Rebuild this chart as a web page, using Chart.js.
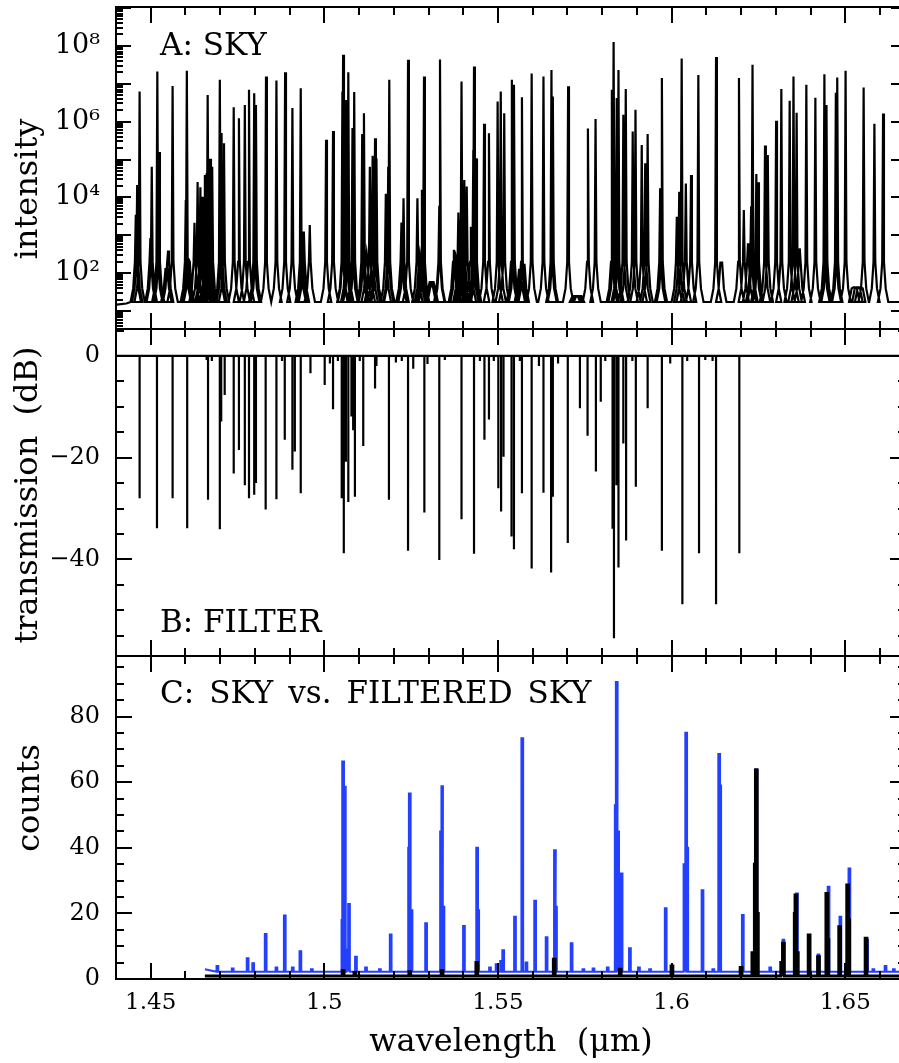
<!DOCTYPE html>
<html><head><meta charset="utf-8">
<script src="https://cdn.jsdelivr.net/npm/chart.js@4.4.1/dist/chart.umd.min.js"></script>
<style>
html,body{margin:0;padding:0;background:#fff;overflow:hidden;}
#wrap{position:relative;width:899px;height:1063px;overflow:hidden;background:#fff;}
canvas{position:absolute;left:0;}
</style></head><body>
<div id="wrap">
<canvas id="cA" width="908" height="330" style="top:0px"></canvas>
<canvas id="cB" width="908" height="329" style="top:328px"></canvas>
<canvas id="cC" width="908" height="408" style="top:655px"></canvas>
</div>
<script>
// ---------------- data ----------------
const xMin = 1.44, xMax = 1.6675;            // wavelength range (µm)
const xMajorTicks = [1.45, 1.5, 1.55, 1.6, 1.65];
const xTickLabels = ['1.45', '1.5', '1.55', '1.6', '1.65'];
const xMinorTicks = [1.44,1.46,1.47,1.48,1.49,1.51,1.52,1.53,1.54,1.56,1.57,1.58,1.59,1.61,1.62,1.63,1.64,1.66];

// Panel A: sky OH emission lines (wavelength, log10 peak intensity)
const skyWl = [1.4457,1.4461,1.4468,1.4499,1.4503,1.4519,1.4524,1.4545,1.4550,1.4563,
1.4601,1.4604,1.4610,1.4626,1.4635,1.4643,1.4648,1.4656,1.4661,1.4664,
1.4667,1.4671,1.4677,1.4699,1.4704,1.4711,1.4739,1.4754,1.4771,1.4783,
1.4798,1.4803,1.4832,1.4862,1.4887,1.4908,1.4932,1.4936,1.4941,1.4958,
1.5005,1.5025,1.5052,1.5054,1.5063,1.5069,1.5081,1.5086,1.5109,1.5114,
1.5122,1.5131,1.5139,1.5146,1.5150,1.5177,1.5184,1.5187,1.5222,1.5228,
1.5241,1.5268,1.5275,1.5281,1.5287,1.5306,1.5312,1.5331,1.5333,1.5373,
1.5378,1.5386,1.5391,1.5395,1.5398,1.5403,1.5410,1.5422,1.5429,1.5431,
1.5437,1.5460,1.5474,1.5499,1.5508,1.5518,1.5540,1.5546,1.5563,1.5569,
1.5574,1.5597,1.5631,1.5654,1.5658,1.5702,1.5722,1.5728,1.5733,1.5759,
1.5781,1.5828,1.5833,1.5842,1.5847,1.5861,1.5868,1.5888,1.5896,1.5914,
1.5924,1.5931,1.5967,1.5972,1.6015,1.6022,1.6029,1.6041,1.6056,1.6077,
1.6128,1.6143,1.6194,1.6208,1.6220,1.6229,1.6233,1.6244,1.6249,1.6269,
1.6277,1.6301,1.6316,1.6340,1.6351,1.6360,1.6369,1.6388,1.6414,1.6440,
1.6446,1.6473,1.6477,1.6501,1.6526,1.6535,1.6543,1.6553,1.6584,1.6609];
const skyPeakExp = [3.54,4.33,6.79,2.93,4.81,7.32,5.20,2.11,2.60,6.94,
3.93,7.34,2.35,3.33,4.41,4.27,4.02,4.59,4.64,6.70,
4.99,5.02,4.81,7.10,5.70,5.43,6.38,6.09,6.44,6.84,
6.75,6.44,7.19,7.08,7.30,6.36,6.88,3.10,3.10,3.27,
5.52,5.75,6.79,7.76,6.57,7.30,5.83,6.78,5.67,6.22,
2.52,4.81,5.10,5.56,5.03,4.10,4.81,7.10,3.34,3.98,
7.63,3.98,2.50,4.20,7.19,1.77,1.77,3.78,7.64,2.62,
2.44,3.60,3.41,7.06,3.85,4.46,4.29,3.23,5.25,7.45,
5.03,5.94,5.69,6.53,6.79,6.22,7.10,6.97,2.09,6.64,
2.22,7.27,7.19,7.36,6.66,6.93,1.40,1.40,1.40,5.82,
6.07,6.84,8.10,6.62,7.36,6.18,6.86,5.74,6.31,5.38,
4.90,5.67,4.24,7.15,3.49,4.15,7.66,4.37,4.59,7.23,
7.70,2.28,7.15,3.67,2.79,3.76,7.50,4.62,4.40,5.37,
5.12,6.02,6.86,6.55,7.19,6.23,2.66,6.97,6.63,7.25,
6.44,6.76,7.16,7.34,1.63,1.63,1.63,6.90,5.94,6.21];
const skyBase = 17.5;                                  // continuum level
const skyContWl  = [1.4402,1.4430,1.6675];
const skyContVal = [15,16,17.5];
const yTicksA = [1e2, 1e4, 1e6, 1e8];
const yTickLabelsA = ['10²', '10⁴', '10⁶', '10⁸'];

// Panel B: filter notches (wavelength, transmission dB)
const filtWl = [1.4468,1.4518,1.4563,1.4605,1.4661,1.4665,1.4676,1.4699,1.4703,1.4713,
1.4739,1.4754,1.4771,1.4783,1.4798,1.4803,1.4831,1.4862,1.4878,1.4886,
1.4908,1.4915,1.4932,1.4960,1.5001,1.5016,1.5025,1.5039,1.5050,1.5056,
1.5062,1.5069,1.5078,1.5083,1.5088,1.5102,1.5112,1.5146,1.5150,1.5186,
1.5206,1.5223,1.5241,1.5256,1.5288,1.5297,1.5331,1.5347,1.5395,1.5431,
1.5448,1.5461,1.5474,1.5488,1.5501,1.5509,1.5516,1.5539,1.5546,1.5563,
1.5569,1.5597,1.5618,1.5631,1.5653,1.5658,1.5673,1.5701,1.5736,1.5758,
1.5782,1.5796,1.5809,1.5830,1.5834,1.5841,1.5847,1.5861,1.5869,1.5887,
1.5897,1.5931,1.5972,1.5996,1.6031,1.6045,1.6079,1.6097,1.6118,1.6128,1.6195];
const filtDb = [-28.0,-33.9,-28.0,-33.9,-0.8,-28.3,-1.0,-34.1,-12.9,-7.7,
-23.1,-18.5,-25.4,-28.0,-27.3,-25.0,-30.2,-28.2,-1.0,-16.5,
-22.4,-18.8,-27.0,-3.4,-5.7,-1.5,-10.5,-1.0,-28.0,-38.8,
-20.8,-28.7,-11.9,-14.6,-27.7,-1.0,-17.7,-6.4,-2.0,-28.3,
-1.3,-1.0,-38.3,-2.5,-30.8,-1.6,-40.1,-0.8,-32.1,-38.9,
-1.0,-16.5,-12.5,-1.0,-26.0,-30.6,-19.8,-35.5,-38.0,-1.0,
-27.0,-41.8,-2.0,-26.9,-42.6,-27.7,-1.5,-36.8,-10.3,-15.7,
-22.7,-9.0,-1.0,-34.0,-55.5,-25.4,-41.6,-17.2,-36.3,-1.0,
-25.7,-10.3,-38.3,-1.5,-48.8,-1.0,-38.8,-0.8,-1.0,-48.8,-38.8];
const yTicksB = [-40, -20, 0];
const yTickLabelsB = ['−40', '−20', '0'];

// Panel C: observed counts, unfiltered sky (blue) and filtered sky (black)
const countsStartWl = 1.4656;
const skyCountsWl = [1.4692,1.4736,1.4779,1.4795,1.4831,1.4862,1.4886,1.4909,1.4931,1.4964,
1.5052,1.5054,1.5059,1.5066,1.5071,1.5091,1.5120,1.5160,1.5191,1.5244,
1.5246,1.5251,1.5293,1.5336,1.5339,1.5343,1.5402,1.5440,1.5443,1.5477,
1.5496,1.5509,1.5515,1.5549,1.5570,1.5582,1.5607,1.5640,1.5664,1.5667,
1.5712,1.5746,1.5775,1.5816,1.5839,1.5842,1.5846,1.5856,1.5880,1.5906,
1.5938,1.5983,1.6037,1.6042,1.6045,1.6089,1.6120,1.6137,1.6140,1.6205,
1.6244,1.6284,1.6322,1.6361,1.6396,1.6423,1.6452,1.6486,1.6512,1.6563,
1.6581,1.6616,1.6640];
const skyCounts = [4.0,3.2,6.3,4.8,13.7,3.5,19.4,3.5,8.5,3.0,
18,66.3,58.6,9,22.9,6.8,3.5,3.0,13.6,40,
56.6,21,17.0,45,58.8,22,16.2,40.0,21,3.5,
4.5,5.5,8.8,19.0,73.4,5,23.9,12.7,39.3,22,
10.9,3.0,3.2,3.5,53,90.6,45,32.2,9.4,3.5,
3.0,21.6,35,75.1,40,27.1,3.0,68.6,59,19.5,
64,3.5,12,26.1,13.4,7.5,28.1,19.0,33.7,11.9,
3.0,4,3.0];
const skyCountsBase = 2.2, skyCountsStart = 3.0;
const filtCountsWl = [1.5054,1.5088,1.5246,1.5339,1.5439,1.5662,1.5852,1.6001,1.6200,1.6234,
1.6241,1.6244,1.6247,1.6317,1.6322,1.6356,1.6358,1.6362,1.6396,1.6423,
1.6447,1.6450,1.6484,1.6507,1.6510,1.6560];
const filtCounts = [2.5,2.0,2.2,2.5,5,6,3,4,3.5,8,
35,63.7,20,5,10.9,20,25.6,8,13.4,6.8,
26.1,12,15.9,28.7,18,12.4];
const filtCountsBase = 0.9;
const yTicksC = [0, 20, 40, 60, 80];
const yTickLabelsC = ['0', '20', '40', '60', '80'];

// ---------------- line glyph styles (not data) ----------------
// emission line drawn as a narrow spike on a small "wing" (half-widths in µm, wing levels)
const wingHalf = [0.00150, 0.00075, 0.00025];
const wingLevel = [null, 40, 200];
const binHalf = 0.00025;   // half bin width for the counts histogram bars

// ---------------- build line points from the arrays ----------------
function groupsToPts(groups) {
  groups.sort((a, b) => a.key - b.key);
  const pts = [];
  groups.forEach(g => g.pts.forEach(p => pts.push(p)));
  return pts;
}
function skyLinePts() {
  const groups = [];
  skyContWl.forEach((w, i) => groups.push({key: w, pts: [{x: w, y: skyContVal[i]}]}));
  skyWl.forEach((w, i) => {
    const pk = Math.pow(10, skyPeakExp[i]);
    const lv = wingLevel.map(l => l === null ? skyBase : Math.min(l, pk));
    groups.push({key: w, pts: [
      {x: w - wingHalf[0], y: lv[0]}, {x: w - wingHalf[1], y: lv[1]}, {x: w - wingHalf[2], y: lv[2]},
      {x: w, y: pk},
      {x: w + wingHalf[2], y: lv[2]}, {x: w + wingHalf[1], y: lv[1]}, {x: w + wingHalf[0], y: lv[0]}]});
  });
  return groupsToPts(groups);
}
function spikePts(wl, vals, base, startWl, startVal, endWl) {
  const groups = [{key: startWl, pts: [{x: startWl, y: startVal}]}, {key: endWl, pts: [{x: endWl, y: base}]}];
  wl.forEach((w, i) => groups.push({key: w, pts: [{x: w, y: base}, {x: w, y: vals[i]}, {x: w, y: base}]}));
  return groupsToPts(groups);
}
function binPts(wl, vals, base, startWl, startVal, endWl) {
  const groups = [{key: startWl, pts: [{x: startWl, y: startVal}]}, {key: endWl, pts: [{x: endWl, y: base}]}];
  wl.forEach((w, i) => groups.push({key: w, pts: [
    {x: w - binHalf, y: base}, {x: w - binHalf, y: vals[i]}, {x: w + binHalf, y: vals[i]}, {x: w + binHalf, y: base}]}));
  return groupsToPts(groups);
}
const skyPts   = skyLinePts();
const filtPts  = spikePts(filtWl, filtDb, 0, xMin, 0, xMax);
const bluePts  = binPts(skyCountsWl, skyCounts, skyCountsBase, countsStartWl, skyCountsStart, xMax);
const blackPts = binPts(filtCountsWl, filtCounts, filtCountsBase, countsStartWl, filtCountsBase, xMax);

// ---------------- chart setup ----------------
const FONT = '"DejaVu Serif", "Liberation Serif", serif';
Chart.defaults.font.family = FONT;
Chart.defaults.color = '#000';

const minorA = [], majorA = [];
for (let d = 0; d <= 9; d++) {
  if (d >= 1) majorA.push(Math.pow(10, d));
  for (let m = 2; m <= 9; m++) { const v = m * Math.pow(10, d); if (v > 3.4 && v < 1.05e9) minorA.push(v); }
}
const minorB = [-55,-50,-45,-35,-30,-25,-15,-10,-5,5];
const minorC = [5,10,15,25,30,35,45,50,55,65,70,75,85,90,95];

function decor(o) {
  return {
    id: 'decor',
    afterDraw(chart) {
      const ctx = chart.ctx, a = chart.chartArea, xs = chart.scales.x, ys = chart.scales.y;
      ctx.save();
      ctx.strokeStyle = '#000'; ctx.lineWidth = 2;
      ctx.beginPath();
      const seg = (x1, y1, x2, y2) => { ctx.moveTo(x1, y1); ctx.lineTo(x2, y2); };
      const xt = (vals, len) => vals.forEach(v => { const p = Math.round(xs.getPixelForValue(v)); seg(p, a.top, p, a.top + len); seg(p, a.bottom, p, a.bottom - len); });
      const yt = (vals, len) => vals.forEach(v => { const p = Math.round(ys.getPixelForValue(v)); seg(a.left, p, a.left + len, p); seg(a.right, p, a.right - len, p); });
      xt(xMajorTicks, 16); xt(xMinorTicks, 8);
      yt(o.yMajor, o.majorLen); yt(o.yMinor, o.minorLen);
      ctx.stroke();
      ctx.strokeRect(a.left, a.top, a.right - a.left, a.bottom - a.top);
      ctx.fillStyle = '#000';
      ctx.font = '31px ' + FONT; ctx.textAlign = 'left'; ctx.textBaseline = 'alphabetic';
      ctx.fillText(o.label, o.labelX, o.labelY);
      if (o.xTitle) { ctx.textAlign = 'center'; ctx.font = '32px ' + FONT; ctx.fillText(o.xTitle, o.xTitleX, o.xTitleY); }
      ctx.font = '32px ' + FONT; ctx.textAlign = 'center';
      ctx.translate(o.titleX, o.titleY); ctx.rotate(-Math.PI / 2);
      ctx.fillText(o.title, 0, 0);
      ctx.restore();
    }
  };
}

function xScale(show) {
  return {
    type: 'linear', min: xMin, max: xMax, display: show,
    grid: {display: false, drawTicks: false}, border: {display: false},
    afterBuildTicks: s => { s.ticks = xMajorTicks.map(v => ({value: v})); },
    ticks: {autoSkip: false, maxRotation: 0, padding: 10, font: {size: 23}, color: '#000',
            callback: (v, i) => xTickLabels[i]},
    afterFit: s => { s.paddingLeft = 0; s.paddingRight = 0; if (show) s.height = 84; }
  };
}
function yScale(type, min, max, ticks, labels, fsize) {
  return {
    type, min, max, position: 'left',
    grid: {display: false, drawTicks: false}, border: {display: false},
    afterBuildTicks: s => { s.ticks = ticks.map(v => ({value: v})); },
    ticks: {autoSkip: false, padding: 16, font: {size: fsize}, color: '#000',
            callback: (v, i) => labels[i]},
    afterFit: s => { s.width = 116; s.paddingTop = 0; s.paddingBottom = 0; }
  };
}
function baseOpts(padding, yS, showX) {
  return {
    responsive: false, animation: false, devicePixelRatio: 1, events: [],
    layout: {padding},
    plugins: {legend: {display: false}, tooltip: {enabled: false}, title: {display: false}},
    elements: {point: {radius: 0}, line: {tension: 0}},
    scales: {x: xScale(showX), y: yS}
  };
}

new Chart(document.getElementById('cA'), {
  type: 'line',
  data: {datasets: [{label: 'sky', data: skyPts, parsing: false, borderColor: '#000', borderWidth: 2.2, pointRadius: 0, fill: false}]},
  options: baseOpts({top: 7, bottom: 1, left: 0, right: 2}, yScale('logarithmic', 3.4, 1.05e9, yTicksA, yTickLabelsA, 27), false),
  plugins: [decor({yMajor: majorA, yMinor: minorA, majorLen: 15, minorLen: 7,
    label: 'A: SKY', labelX: 160, labelY: 55, title: 'intensity', titleX: 37, titleY: 189})]
});

new Chart(document.getElementById('cB'), {
  type: 'line',
  data: {datasets: [{label: 'filter', data: filtPts, parsing: false, borderColor: '#000', borderWidth: 2.2, pointRadius: 0, fill: false}]},
  options: baseOpts({top: 1, bottom: 1, left: 0, right: 2}, yScale('linear', -59, 5.3, yTicksB, yTickLabelsB, 24), false),
  plugins: [decor({yMajor: yTicksB, yMinor: minorB, majorLen: 16, minorLen: 8,
    label: 'B: FILTER', labelX: 160, labelY: 304, title: 'transmission  (dB)', titleX: 37, titleY: 167})]
});

new Chart(document.getElementById('cC'), {
  type: 'line',
  data: {datasets: [
    {label: 'filtered sky', data: blackPts, parsing: false, borderColor: '#000', borderWidth: 3, pointRadius: 0, fill: false},
    {label: 'sky', data: bluePts, parsing: false, borderColor: '#2440ff', borderWidth: 2, pointRadius: 0, fill: false}
  ]},
  options: baseOpts({top: 1, bottom: 0, left: 0, right: 2}, yScale('linear', 0, 98.5, yTicksC, yTickLabelsC, 24), true),
  plugins: [decor({yMajor: yTicksC, yMinor: minorC, majorLen: 16, minorLen: 8,
    label: 'C:\u2006 SKY\u2006 vs.\u2006 FILTERED\u2006 SKY', labelX: 160, labelY: 48, title: 'counts', titleX: 39, titleY: 143,
    xTitle: 'wavelength  (μm)', xTitleX: 511, xTitleY: 396})]
});
</script>
</body></html>
